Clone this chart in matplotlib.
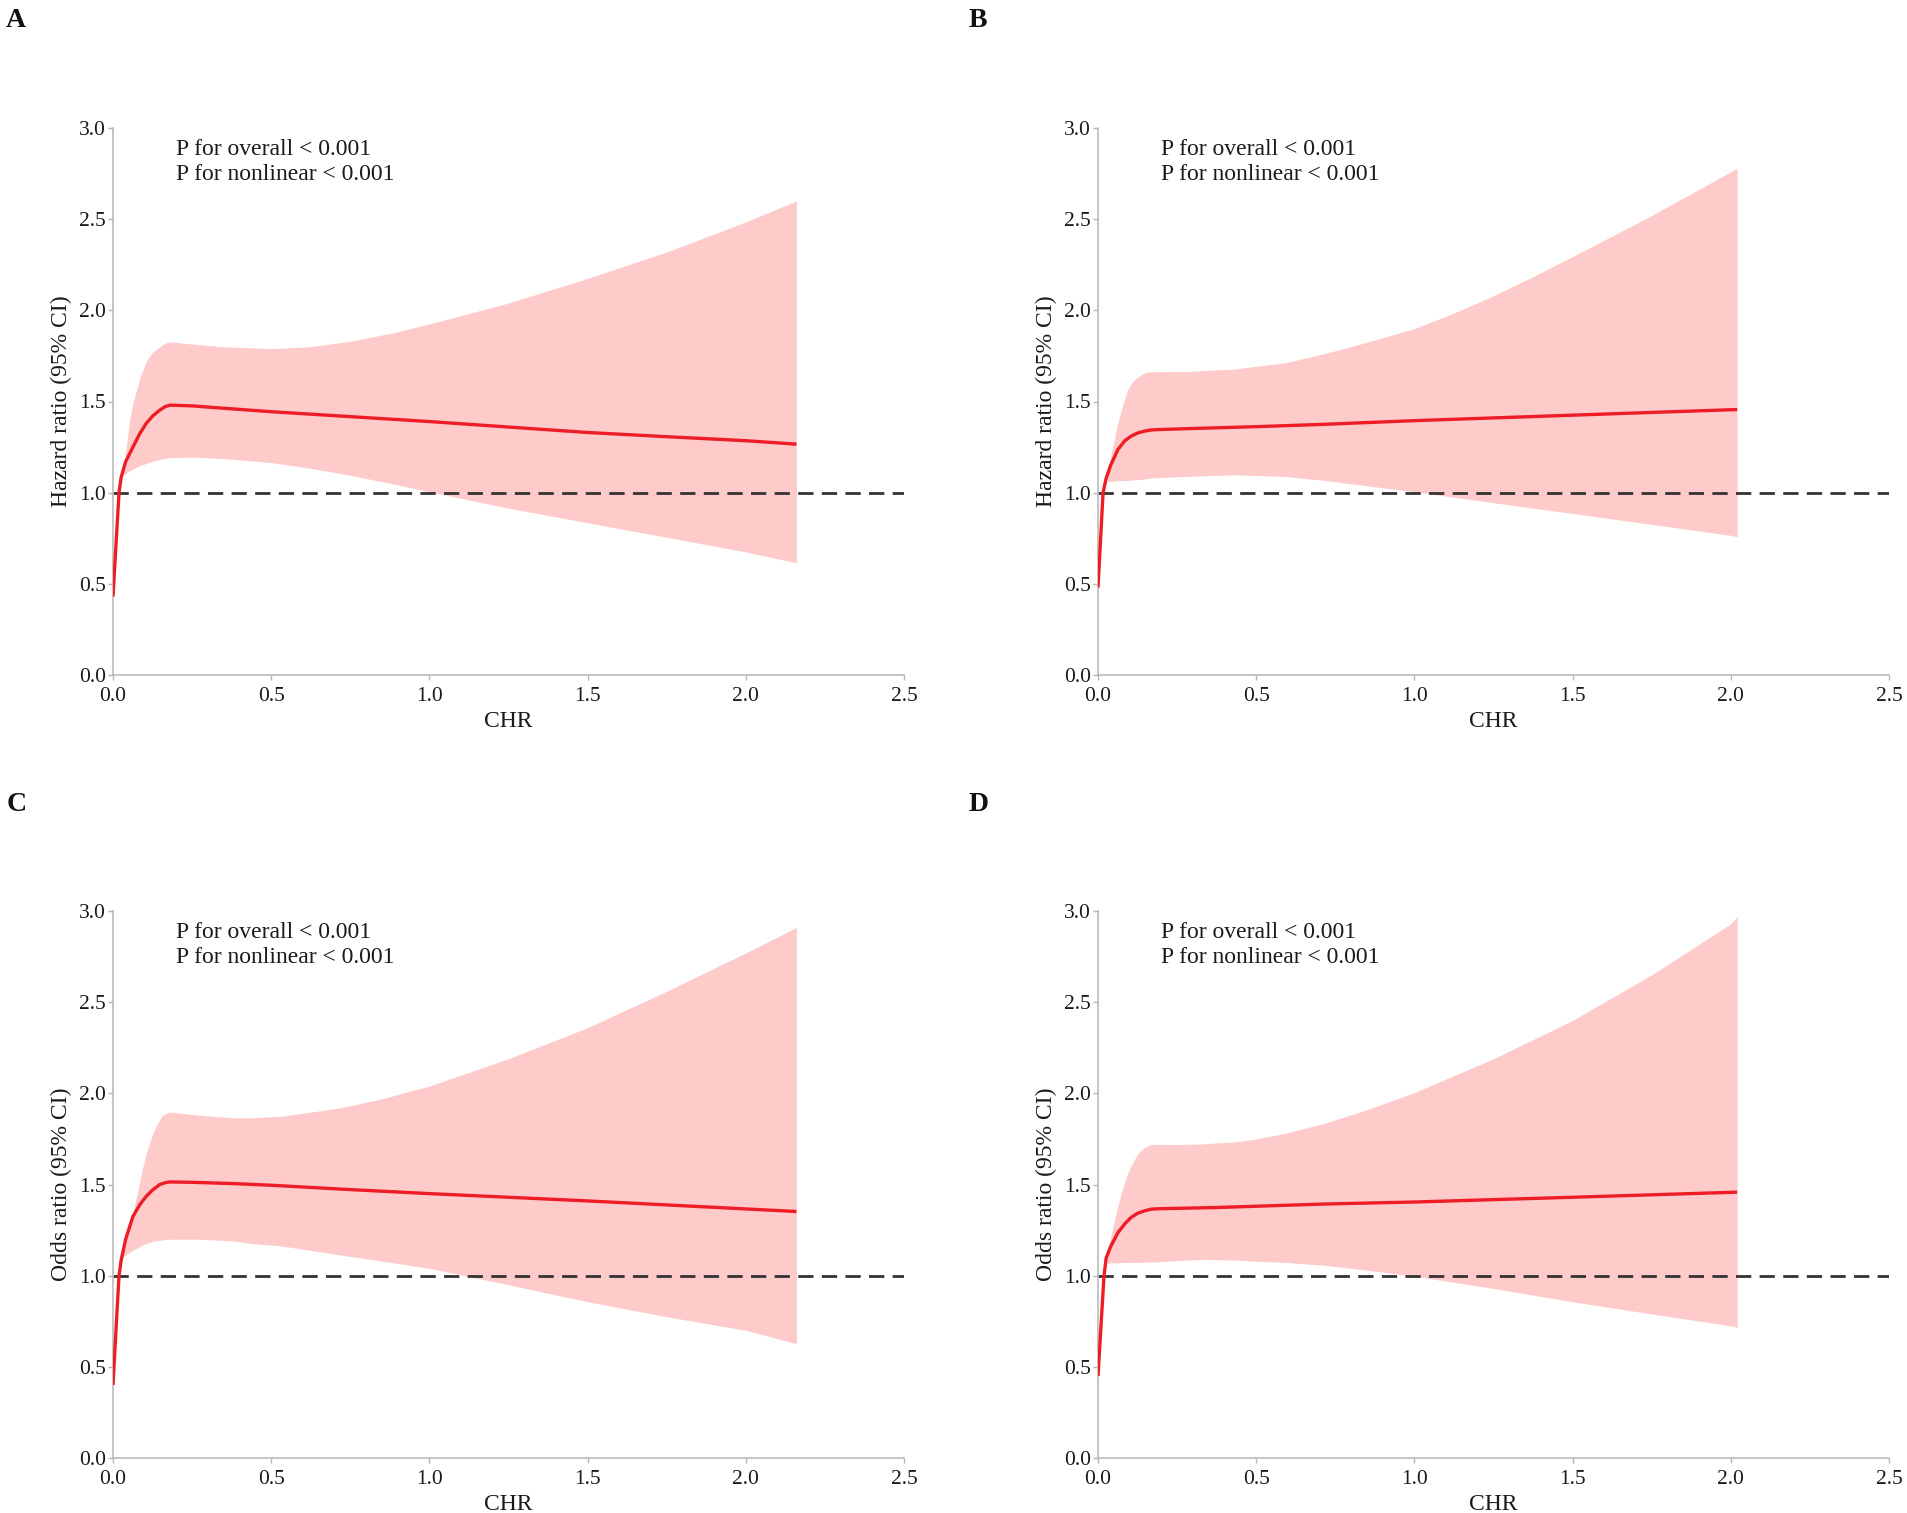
import matplotlib
matplotlib.use("Agg")
import matplotlib.pyplot as plt

plt.rcParams['font.family'] = 'serif'
plt.rcParams['font.serif'] = ['Liberation Serif', 'Times New Roman', 'DejaVu Serif']

# ---------------- data ----------------
# Panel A (Hazard ratio)
x_line_A = [0, 0.01, 0.019, 0.026, 0.04, 0.063, 0.085, 0.105, 0.125, 0.148, 0.165, 0.18,
            0.25, 0.35, 0.5, 0.75, 1.0, 1.25, 1.5, 1.75, 2.0, 2.16]
est_A = [0.43, 0.73, 1.0, 1.086, 1.17, 1.25, 1.325, 1.38, 1.42, 1.453, 1.472, 1.48,
         1.476, 1.463, 1.444, 1.417, 1.39, 1.36, 1.33, 1.307, 1.285, 1.266]
x_band_A = [0.03, 0.042, 0.053, 0.063, 0.085, 0.105, 0.125, 0.148, 0.165, 0.18,
            0.25, 0.35, 0.5, 0.62, 0.75, 0.88, 1.0, 1.25, 1.5, 1.75, 2.0, 2.16]
lo_A = [1.095, 1.106, 1.12, 1.13, 1.148, 1.16, 1.172, 1.182, 1.188, 1.192,
        1.195, 1.187, 1.165, 1.135, 1.095, 1.05, 1.005, 0.915, 0.835, 0.755, 0.675, 0.615]
hi_A = [1.12, 1.25, 1.40, 1.49, 1.63, 1.72, 1.77, 1.80, 1.82, 1.827,
        1.815, 1.80, 1.79, 1.80, 1.83, 1.875, 1.925, 2.04, 2.175, 2.32, 2.485, 2.60]

# Panel B (Hazard ratio)
x_line_B = [0, 0.008, 0.016, 0.026, 0.04, 0.063, 0.085, 0.105, 0.125, 0.148, 0.169, 0.19,
            0.3, 0.5, 0.717, 1.0, 1.25, 1.5, 1.75, 2.02]
est_B = [0.48, 0.74, 1.0, 1.08, 1.15, 1.237, 1.285, 1.31, 1.327, 1.338, 1.344, 1.346,
         1.352, 1.362, 1.375, 1.395, 1.41, 1.425, 1.44, 1.456]
x_band_B = [0.03, 0.04, 0.063, 0.08, 0.095, 0.11, 0.126, 0.14, 0.158, 0.18,
            0.274, 0.43, 0.59, 0.717, 0.85, 1.0, 1.125, 1.25, 1.375, 1.5, 1.75, 2.0, 2.02]
lo_B = [1.06, 1.062, 1.065, 1.067, 1.068, 1.07, 1.072, 1.074, 1.078, 1.082,
        1.089, 1.098, 1.089, 1.067, 1.038, 1.005, 0.975, 0.945, 0.915, 0.886, 0.826, 0.766, 0.758]
hi_B = [1.09, 1.20, 1.385, 1.49, 1.57, 1.61, 1.634, 1.65, 1.662, 1.663,
        1.664, 1.678, 1.712, 1.763, 1.825, 1.90, 1.985, 2.08, 2.185, 2.295, 2.52, 2.76, 2.78]

# Panel C (Odds ratio)
x_line_C = [0, 0.01, 0.019, 0.026, 0.04, 0.063, 0.085, 0.105, 0.125, 0.148, 0.165, 0.179,
            0.25, 0.38, 0.5, 0.717, 1.0, 1.25, 1.5, 1.75, 2.0, 2.16]
est_C = [0.40, 0.72, 1.0, 1.086, 1.20, 1.325, 1.39, 1.435, 1.47, 1.50, 1.51, 1.514,
         1.512, 1.505, 1.496, 1.475, 1.45, 1.43, 1.41, 1.388, 1.366, 1.352]
x_band_C = [0.03, 0.037, 0.05, 0.063, 0.08, 0.095, 0.11, 0.126, 0.142, 0.158, 0.179,
            0.274, 0.38, 0.43, 0.537, 0.717, 0.85, 1.0, 1.25, 1.5, 1.75, 2.0, 2.16]
lo_C = [1.10, 1.108, 1.125, 1.14, 1.155, 1.169, 1.18, 1.188, 1.193, 1.196, 1.20,
        1.20, 1.19, 1.178, 1.162, 1.114, 1.08, 1.04, 0.95, 0.857, 0.775, 0.70, 0.627]
hi_C = [1.105, 1.18, 1.27, 1.344, 1.48, 1.60, 1.70, 1.78, 1.84, 1.883, 1.897,
        1.88, 1.866, 1.865, 1.875, 1.92, 1.97, 2.04, 2.19, 2.36, 2.56, 2.77, 2.91]

# Panel D (Odds ratio)
x_line_D = [0, 0.01, 0.019, 0.026, 0.04, 0.063, 0.085, 0.105, 0.125, 0.148, 0.169, 0.19,
            0.38, 0.717, 1.0, 1.5, 2.02]
est_D = [0.45, 0.74, 1.0, 1.098, 1.16, 1.236, 1.285, 1.32, 1.342, 1.356, 1.365, 1.367,
         1.374, 1.393, 1.404, 1.43, 1.458]
x_band_D = [0.03, 0.037, 0.05, 0.063, 0.08, 0.095, 0.11, 0.126, 0.145, 0.163, 0.18,
            0.274, 0.327, 0.43, 0.485, 0.59, 0.717, 0.85, 1.0, 1.25, 1.5, 1.75, 2.0, 2.02]
lo_D = [1.065, 1.07, 1.07, 1.071, 1.072, 1.072, 1.073, 1.073, 1.074, 1.074, 1.075,
        1.085, 1.089, 1.086, 1.08, 1.073, 1.057, 1.03, 0.997, 0.93, 0.857, 0.79, 0.725, 0.717]
hi_D = [1.10, 1.19, 1.29, 1.384, 1.49, 1.568, 1.62, 1.67, 1.70, 1.718, 1.72,
        1.72, 1.722, 1.734, 1.745, 1.78, 1.836, 1.91, 2.004, 2.19, 2.40, 2.65, 2.93, 2.97]

panel_letters = ["A", "B", "C", "D"]
y_labels = ["Hazard ratio (95% CI)", "Hazard ratio (95% CI)",
            "Odds ratio (95% CI)", "Odds ratio (95% CI)"]
x_label = "CHR"
annot_lines = ["P for overall < 0.001", "P for nonlinear < 0.001"]
x_ticks = [0.0, 0.5, 1.0, 1.5, 2.0, 2.5]
y_ticks = [0.0, 0.5, 1.0, 1.5, 2.0, 2.5, 3.0]
ref_value = 1.0

panels = [
    (x_line_A, est_A, x_band_A, lo_A, hi_A),
    (x_line_B, est_B, x_band_B, lo_B, hi_B),
    (x_line_C, est_C, x_band_C, lo_C, hi_C),
    (x_line_D, est_D, x_band_D, lo_D, hi_D),
]

# ---------------- figure ----------------
W, H = 1908, 1513
fig = plt.figure(figsize=(W / 100, H / 100), dpi=100)

ax_w = (904 - 113) / W
ax_h = (675 - 128) / H
positions = [
    (113 / W, 1 - 675 / H),
    (1098 / W, 1 - 675 / H),
    (113 / W, 1 - 1458 / H),
    (1098 / W, 1 - 1458 / H),
]
letter_pos = [(6 / W, 1 - 8 / H), (969 / W, 1 - 8 / H),
              (7 / W, 1 - 792 / H), (969 / W, 1 - 792 / H)]

spine_col = "#b5b5b5"
txt_col = "#1a1a1a"
for i, (pos, data) in enumerate(zip(positions, panels)):
    xl, est, xb, lo, hi = data
    ax = fig.add_axes([pos[0], pos[1], ax_w, ax_h])
    ax.fill_between(xb, lo, hi, color="#ffcaca", linewidth=0, zorder=1)
    ax.plot(xl, est, color="#ee1c24", linewidth=2.4, zorder=3, solid_capstyle="butt")
    ax.axhline(ref_value, xmin=0, xmax=1, color="#333333", linewidth=2.0,
               dashes=(5.5, 3.0), zorder=2)
    ax.set_xlim(0, 2.5)
    ax.set_ylim(0, 3.0)
    ax.set_xticks(x_ticks)
    ax.set_yticks(y_ticks)
    ax.set_xticklabels([f"{t:.1f}" for t in x_ticks])
    ax.set_yticklabels([f"{t:.1f}" for t in y_ticks])
    for s in ["top", "right"]:
        ax.spines[s].set_visible(False)
    for s in ["left", "bottom"]:
        ax.spines[s].set_color(spine_col)
        ax.spines[s].set_linewidth(1.1)
    ax.tick_params(axis="both", direction="out", length=3.5, width=1.0,
                   color=spine_col, labelsize=15.5, labelcolor=txt_col)
    ax.tick_params(axis="x", pad=5)
    ax.tick_params(axis="y", pad=1.5)
    ax.set_xlabel(x_label, fontsize=17, color=txt_col, labelpad=4)
    ax.set_ylabel(y_labels[i], fontsize=17, color=txt_col, labelpad=5)
    ax.text(0.2, 2.85, annot_lines[0], fontsize=17, color=txt_col,
            va="baseline", ha="left")
    ax.text(0.2, 2.715, annot_lines[1], fontsize=17, color=txt_col,
            va="baseline", ha="left")
    fig.text(letter_pos[i][0], letter_pos[i][1], panel_letters[i], fontsize=20,
             fontweight="bold", va="top", ha="left", color="#111111")

fig.savefig("out.png", dpi=100, facecolor="white")
